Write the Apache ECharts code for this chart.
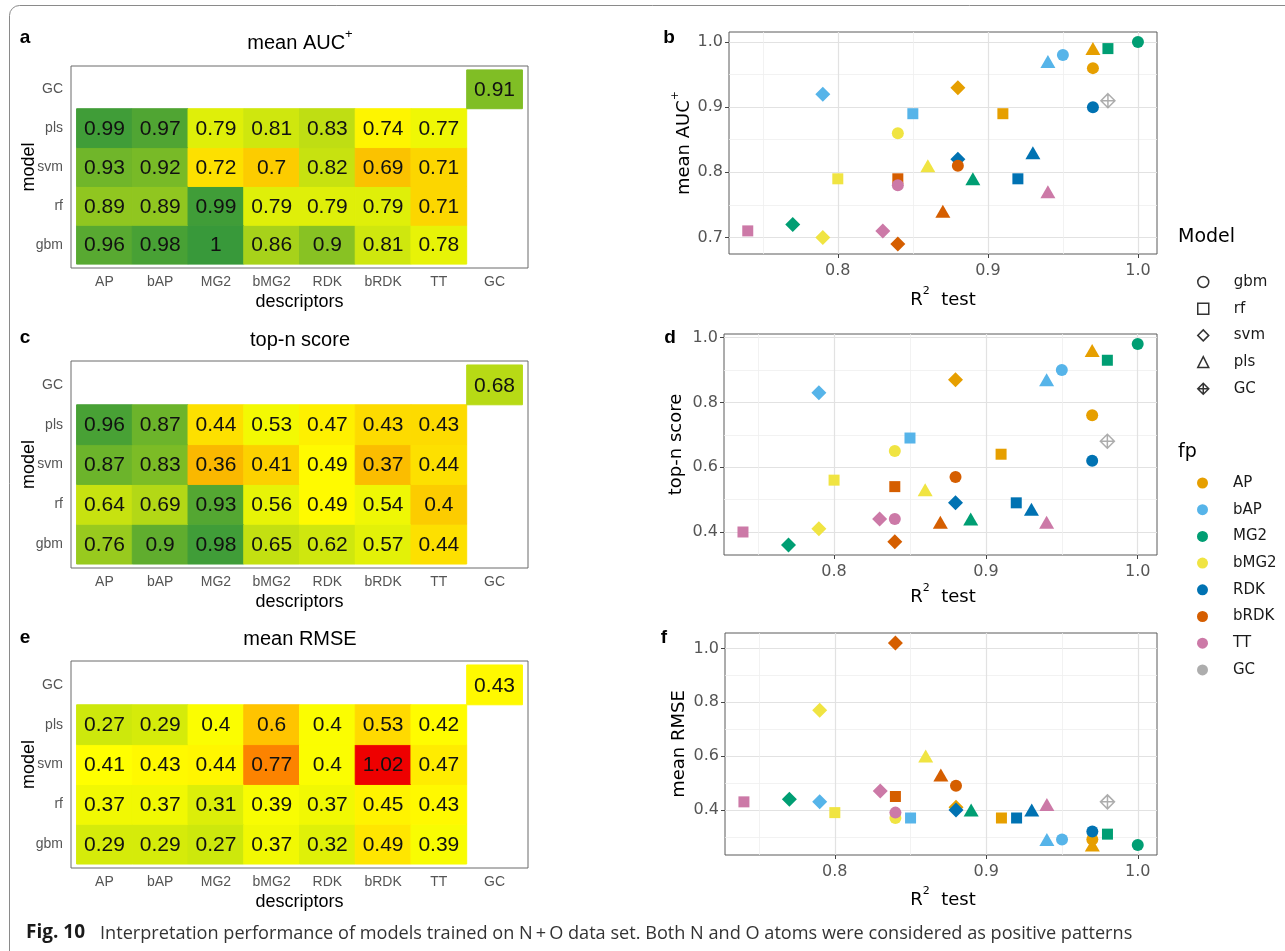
<!DOCTYPE html>
<html><head><meta charset="utf-8">
<script src="https://cdn.jsdelivr.net/npm/echarts@6/dist/echarts.min.js"></script>
<style>html,body{margin:0;padding:0;background:#fff}#c{width:1285px;height:951px}</style>
</head><body><div id="c"></div>
<script>
// ---------- data ----------
const descriptors = ['AP','bAP','MG2','bMG2','RDK','bRDK','TT','GC'];
const heatModels = ['gbm','rf','svm','pls','GC'];
const fps = ['AP','bAP','MG2','bMG2','RDK','bRDK','TT'];
const modelNames = ['gbm','rf','svm','pls'];

// mean AUC+ (per model, across fps AP..TT)
const aucGbm = [0.96,0.98,1,0.86,0.9,0.81,0.78];
const aucRf  = [0.89,0.89,0.99,0.79,0.79,0.79,0.71];
const aucSvm = [0.93,0.92,0.72,0.7,0.82,0.69,0.71];
const aucPls = [0.99,0.97,0.79,0.81,0.83,0.74,0.77];
const aucGC = 0.91;
// top-n score
const topGbm = [0.76,0.9,0.98,0.65,0.62,0.57,0.44];
const topRf  = [0.64,0.69,0.93,0.56,0.49,0.54,0.4];
const topSvm = [0.87,0.83,0.36,0.41,0.49,0.37,0.44];
const topPls = [0.96,0.87,0.44,0.53,0.47,0.43,0.43];
const topGC = 0.68;
// mean RMSE
const rmseGbm = [0.29,0.29,0.27,0.37,0.32,0.49,0.39];
const rmseRf  = [0.37,0.37,0.31,0.39,0.37,0.45,0.43];
const rmseSvm = [0.41,0.43,0.44,0.77,0.4,1.02,0.47];
const rmsePls = [0.27,0.29,0.4,0.6,0.4,0.53,0.42];
const rmseGC = 0.43;
// R2 test
const r2Gbm = [0.97,0.95,1.00,0.84,0.97,0.88,0.84];
const r2Rf  = [0.91,0.85,0.98,0.80,0.92,0.84,0.74];
const r2Svm = [0.88,0.79,0.77,0.79,0.88,0.84,0.83];
const r2Pls = [0.97,0.94,0.89,0.86,0.93,0.87,0.94];
const r2GC = 0.98;

// tick labels
const r2Ticks = [0.8,0.9,1.0];
const r2Minor = [0.75,0.85,0.95];
const aucTicks = [0.7,0.8,0.9,1.0];
const aucMinor = [0.75,0.85,0.95];
const topTicks = [0.4,0.6,0.8,1.0];
const topMinor = [0.5,0.7,0.9];
const rmseTicks = [0.4,0.6,0.8,1.0];
const rmseMinor = [0.3,0.5,0.7,0.9];

// ---------- styles ----------
const NARROW = '"Liberation Sans",Arial,sans-serif';
const WIDE = '"DejaVu Sans",sans-serif';
const RED = '#ee0000', YEL = '#ffff00', GRN = '#38993a';
const fpColors = ['#E69F00','#56B4E9','#009E73','#F0E442','#0072B2','#D55E00','#CC79A7','#999999'];
const modelSymbols = ['circle','rect','diamond','triangle'];
const modelSizes = [12,11,15,[15,13]];
const GC_PATH = 'path://M6,0L12,6L6,12L0,6Z M6,0L6,12 M0,6L12,6';

const heatPanels = [
  {rows:[aucGbm,aucRf,aucSvm,aucPls], gc:aucGC, vm:[0.5,1,[RED,YEL,GRN]]},
  {rows:[topGbm,topRf,topSvm,topPls], gc:topGC, vm:[0,1,[RED,YEL,GRN]]},
  {rows:[rmseGbm,rmseRf,rmseSvm,rmsePls], gc:rmseGC, vm:[-0.2,1.02,[GRN,'#93cc1a',YEL,'#ffa000',RED]]}
];
const heatGrids = [
  {left:71,top:66,width:457,height:202},
  {left:71,top:361,width:457,height:207},
  {left:71,top:661,width:457,height:207}
];
const r2Rows = [r2Gbm,r2Rf,r2Svm,r2Pls];
const scatPanels = [
  {metric:[aucGbm,aucRf,aucSvm,aucPls], gc:aucGC, ymin:0.6745, ymax:1.0155, major:aucTicks, minor:aucMinor},
  {metric:[topGbm,topRf,topSvm,topPls], gc:topGC, ymin:0.329, ymax:1.011, major:topTicks, minor:topMinor},
  {metric:[rmseGbm,rmseRf,rmseSvm,rmsePls], gc:rmseGC, ymin:0.2325, ymax:1.0575, major:rmseTicks, minor:rmseMinor}
];
const scatGrids = [
  {left:729,top:32,width:428,height:222},
  {left:724,top:334,width:433,height:221},
  {left:725,top:633,width:432,height:222}
];
const R2_MIN = 0.7275, R2_MAX = 1.0127;

const grid = [], xAxis = [], yAxis = [], series = [], visualMap = [], graphic = [];

const heatXPos = descriptors.map((d,i)=>i+1);
const heatYPos = heatModels.map((d,i)=>i+1);

heatPanels.forEach((p, pi) => {
  grid.push(Object.assign({show:true, borderColor:'#6b6b6b', borderWidth:1, backgroundColor:'#fff'}, heatGrids[pi]));
  xAxis.push({type:'value', gridIndex:pi, min:0.4, max:8.6,
    axisLine:{show:false}, splitLine:{show:false},
    axisTick:{show:false, customValues:heatXPos},
    axisLabel:{customValues:heatXPos, formatter:v=>descriptors[Math.round(v)-1], color:'#555', fontFamily:NARROW, fontSize:14, margin:7}});
  yAxis.push({type:'value', gridIndex:pi, min:0.4, max:5.6,
    axisLine:{show:false}, splitLine:{show:false},
    axisTick:{show:false, customValues:heatYPos},
    axisLabel:{customValues:heatYPos, formatter:v=>heatModels[Math.round(v)-1], color:'#555', fontFamily:NARROW, fontSize:14, margin:8}});
  const data = [];
  p.rows.forEach((row, r) => row.forEach((v, c) => data.push([c+1, r+1, v])));
  data.push([8, 5, p.gc]);
  visualMap.push({type:'continuous', show:false, seriesIndex:series.length, dimension:2,
    min:p.vm[0], max:p.vm[1], inRange:{color:p.vm[2]}});
  series.push({type:'custom', xAxisIndex:pi, yAxisIndex:pi, data, silent:true, animation:false,
    renderItem:(params, api) => {
      const x = api.value(0), y = api.value(1), v = api.value(2);
      const a = api.coord([x-0.5, y+0.5]), b = api.coord([x+0.5, y-0.5]);
      const col = api.visual('color');
      return {type:'group', children:[
        {type:'rect', shape:{x:a[0], y:a[1], width:b[0]-a[0], height:b[1]-a[1]}, style:{fill:col, stroke:col, lineWidth:1}},
        {type:'text', style:{text:String(v), x:(a[0]+b[0])/2, y:(a[1]+b[1])/2+1, align:'center', verticalAlign:'middle', fontFamily:NARROW, fontSize:21, fill:'#111'}}
      ]};
    }});
});

scatPanels.forEach((p, pi) => {
  const gi = 3 + pi;
  grid.push(Object.assign({show:true, borderColor:'#5a5a5a', borderWidth:1, backgroundColor:'#fff'}, scatGrids[pi]));
  xAxis[gi] = {type:'value', gridIndex:gi, min:R2_MIN, max:R2_MAX, axisLine:{show:false},
    axisTick:{show:true, customValues:r2Ticks, length:4, lineStyle:{color:'#444'}},
    axisLabel:{customValues:r2Ticks, formatter:v=>v.toFixed(1), color:'#555', fontFamily:WIDE, fontSize:16, margin:9},
    splitLine:{show:true, lineStyle:{color:'#e2e2e2', width:1.2}}};
  yAxis[gi] = {type:'value', gridIndex:gi, min:p.ymin, max:p.ymax, axisLine:{show:false},
    axisTick:{show:true, customValues:p.major, length:4, lineStyle:{color:'#444'}},
    axisLabel:{customValues:p.major, formatter:v=>v.toFixed(1), color:'#555', fontFamily:WIDE, fontSize:16, margin:6},
    splitLine:{show:true, lineStyle:{color:'#e2e2e2', width:1.2}}};
  xAxis[gi+3] = {type:'value', gridIndex:gi, position:'top', min:R2_MIN, max:R2_MAX, axisLine:{show:false},
    axisTick:{show:false, customValues:r2Minor}, axisLabel:{show:false, customValues:r2Minor},
    splitLine:{show:true, lineStyle:{color:'#efefef', width:0.8}}};
  yAxis[gi+3] = {type:'value', gridIndex:gi, position:'right', min:p.ymin, max:p.ymax, axisLine:{show:false},
    axisTick:{show:false, customValues:p.minor}, axisLabel:{show:false, customValues:p.minor},
    splitLine:{show:true, lineStyle:{color:'#efefef', width:0.8}}};
  fps.forEach((fp, i) => {
    series.push({type:'scatter', name:fp, xAxisIndex:gi, yAxisIndex:gi, animation:false, emphasis:{disabled:true},
      itemStyle:{color:fpColors[i], opacity:1},
      data: modelNames.map((m,k)=>({value:[r2Rows[k][i], p.metric[k][i]], symbol:modelSymbols[k], symbolSize:modelSizes[k]}))});
  });
  series.push({type:'scatter', name:'GC', xAxisIndex:gi, yAxisIndex:gi, animation:false, emphasis:{disabled:true},
    symbol:GC_PATH, symbolSize:14,
    itemStyle:{color:'rgba(0,0,0,0)', borderColor:'#999', borderWidth:1.5},
    data:[{value:[r2GC, p.gc]}]});
});

// legend-only series for model shapes
modelNames.forEach((m,k) => {
  series.push({type:'scatter', name:m, xAxisIndex:3, yAxisIndex:3, data:[], symbol:modelSymbols[k],
    itemStyle:{color:'#fff', borderColor:'#000', borderWidth:1.5}});
});

const legendText = {fontFamily:WIDE, fontSize:15, color:'#1a1a1a', lineHeight:16, rich:{g:{width:20}}};
const legend = [
  {orient:'vertical', left:1197, top:274, padding:0, itemWidth:11, itemHeight:11, itemGap:10.7, selectedMode:false,
   formatter:n=>'{g| }'+n, textStyle:legendText,
   itemStyle:{color:'#fff', borderColor:'#000', borderWidth:1.5},
   data:modelNames.map((m,k)=>({name:m, icon:modelSymbols[k]})).concat([{name:'GC', icon:GC_PATH, itemStyle:{color:'#fff', borderColor:'#000', borderWidth:1.5}}])},
  {orient:'vertical', left:1197, top:475, padding:0, itemWidth:11, itemHeight:11, itemGap:10.7, selectedMode:false,
   formatter:n=>'{g| }'+n, textStyle:legendText,
   data:fps.concat(['GC']).map((n,i)=>({name:n, icon:'circle', itemStyle:{color:fpColors[i], borderWidth:0}}))}
];

// ---------- text / decoration ----------
function txt(x, y, text, font, extra) {
  return Object.assign({type:'text', x, y, silent:true,
    style:Object.assign({text, align:'center', verticalAlign:'middle', fill:'#000'}, font)}, extra || {});
}
graphic.push({type:'rect', silent:true, shape:{x:9.5, y:5.5, width:1300, height:960, r:10}, style:{fill:'none', stroke:'#8a8a8a', lineWidth:1}});
const supRich = (size, fam, sup) => ({m:{fontSize:size, fontFamily:fam, lineHeight:size+10, fill:'#000'}, s:{fontSize:sup, fontFamily:fam, lineHeight:sup, verticalAlign:'top', fill:'#000'}});
// heatmap titles
graphic.push(txt(300, 43, '{m|mean AUC}{s|+}', {rich:supRich(20, NARROW, 13)}));
graphic.push(txt(300, 340, 'top-n score', {fontFamily:NARROW, fontSize:20}));
graphic.push(txt(300, 639, 'mean RMSE', {fontFamily:NARROW, fontSize:20}));
// panel letters
[['a',25,38],['c',25,338],['e',25,638],['b',669,38],['d',670,338],['f',664,638]].forEach(l =>
  graphic.push(txt(l[1], l[2], l[0], {fontFamily:'"Liberation Sans",sans-serif', fontSize:19, fontWeight:'bold'})));
// heatmap axis titles
[[302,167],[602,464.5],[902,764.5]].forEach(p => {
  graphic.push(txt(299.5, p[0], 'descriptors', {fontFamily:NARROW, fontSize:18}));
  graphic.push(txt(29, p[1], 'model', {fontFamily:NARROW, fontSize:18}, {rotation:Math.PI/2}));
});
// scatter axis titles
[[300],[597],[900]].forEach(p => graphic.push(txt(943, p[0], '{m|R}{s|2}{m|  test}', {rich:supRich(18, WIDE, 11)})));
graphic.push(txt(684, 143, '{m|mean AUC}{s|+}', {rich:supRich(18, WIDE, 11)}, {rotation:Math.PI/2}));
graphic.push(txt(676, 444.5, 'top-n score', {fontFamily:WIDE, fontSize:18}, {rotation:Math.PI/2}));
graphic.push(txt(679, 744, 'mean RMSE', {fontFamily:WIDE, fontSize:18}, {rotation:Math.PI/2}));
// legend titles
graphic.push(txt(1178, 237, 'Model', {fontFamily:WIDE, fontSize:19, align:'left'}));
graphic.push(txt(1178, 452, 'fp', {fontFamily:WIDE, fontSize:19, align:'left'}));
// caption
graphic.push(txt(26, 933, 'Fig. 10', {fontFamily:'"Open Sans",sans-serif', fontSize:19, fontWeight:'bold', align:'left', fill:'#1a1a1a'}));
graphic.push(txt(100, 934, 'Interpretation performance of models trained on N\u2009+\u2009O data set. Both N and O atoms were considered as positive patterns',
  {fontFamily:'"Open Sans",sans-serif', fontSize:18.15, align:'left', fill:'#333'}));

const chart = echarts.init(document.getElementById('c'), null, {renderer:'canvas'});
chart.setOption({animation:false, backgroundColor:'#fff', grid, xAxis, yAxis, visualMap, series, legend, graphic});
</script>
</body></html>
